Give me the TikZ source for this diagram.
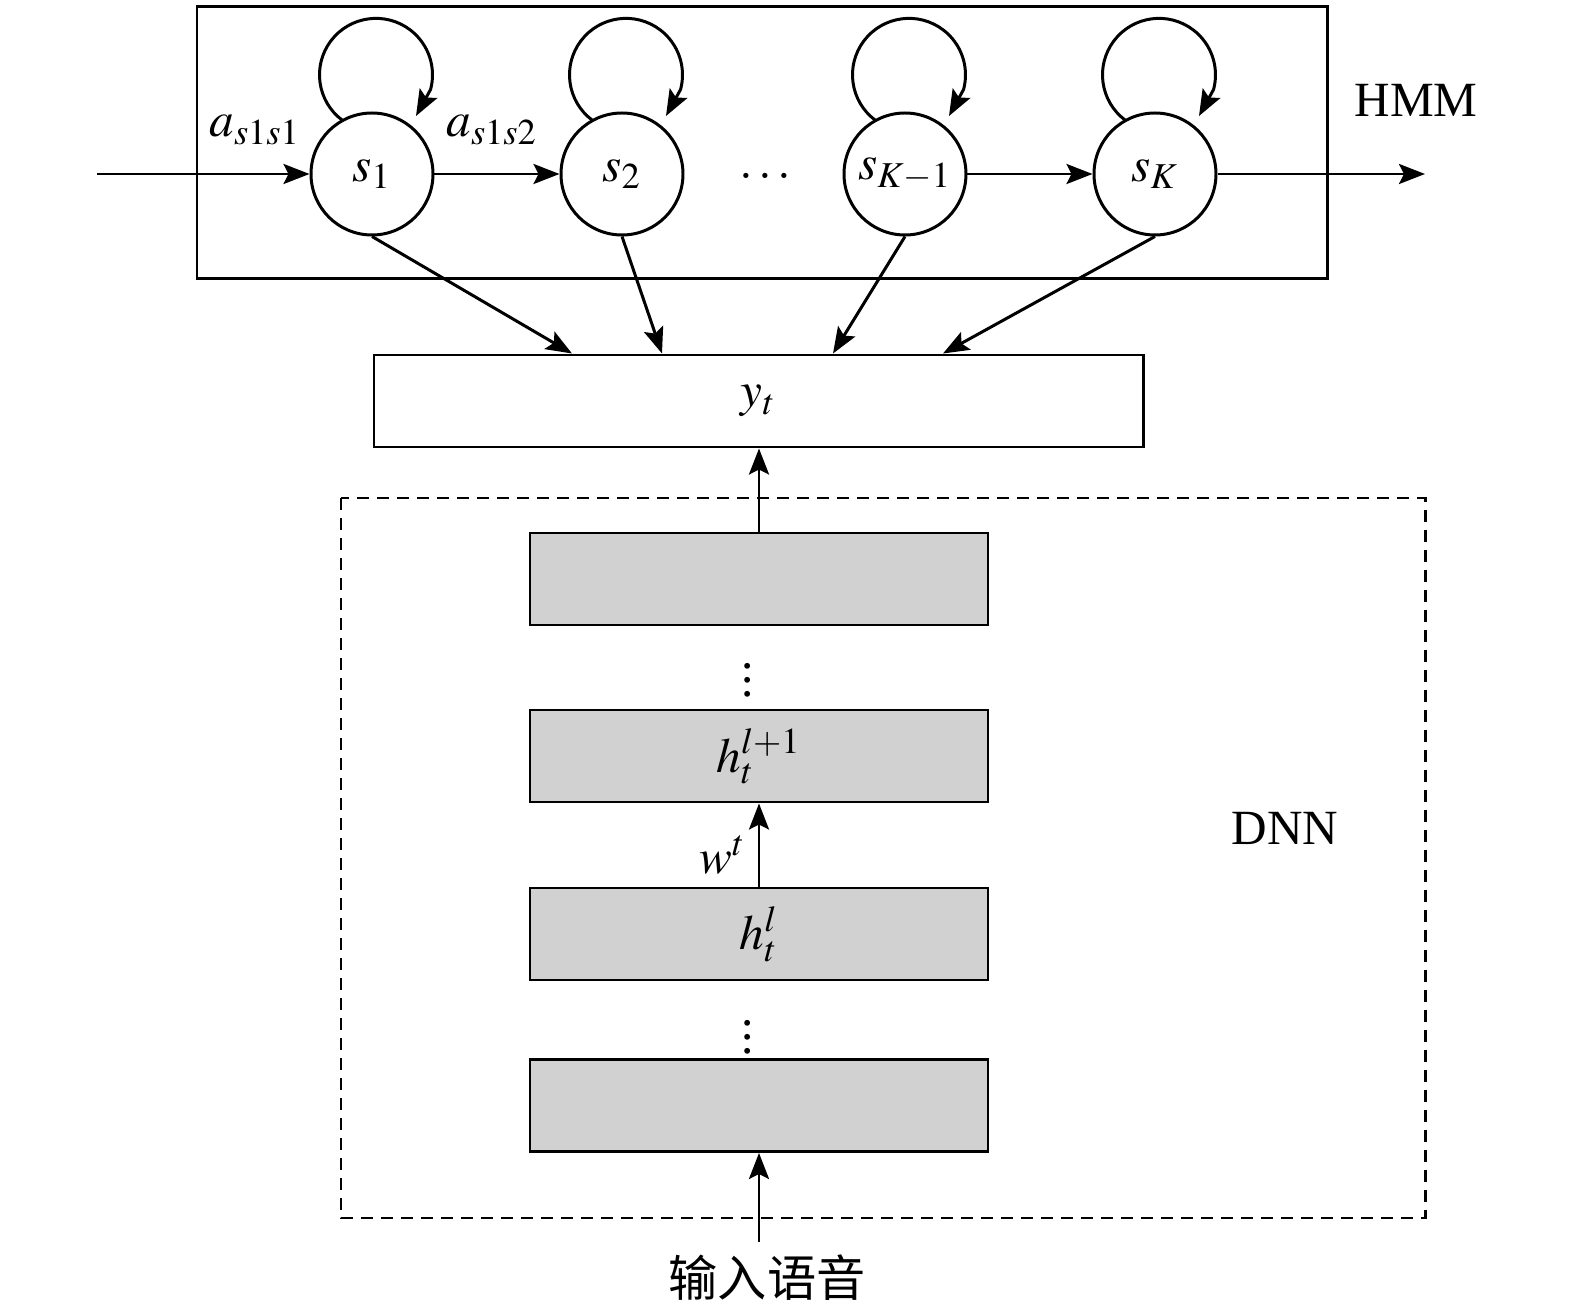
\documentclass[tikz,border=0pt]{standalone}
\usepackage{mathptmx}
\usepackage{fontspec}
\setmainfont{Liberation Serif}
\newfontfamily\cjk{Noto Sans CJK SC}
\usepackage{tikz}
\usetikzlibrary{arrows.meta}
\definecolor{layergray}{HTML}{D1D1D1}

\begin{document}
\begin{tikzpicture}[
    line width=0.85pt,
    every node/.style={font=\fontsize{14}{17}\selectfont},
    state/.style={draw, circle, minimum size=1.22cm, inner sep=0pt},
    layer/.style={draw, fill=layergray, minimum width=4.58cm, minimum height=0.92cm, inner sep=0pt},
    arr/.style={-{Stealth[length=2.6mm, width=2mm, inset=0.5mm]}}
]
  \useasboundingbox (0,0) rectangle (15.75,-13.14);

  % HMM-Kasten
  \draw (1.97,-0.07) rectangle (13.27,-2.79);
  \node (hmm) at (14.16,-1.00) {HMM};

  % Zustaende
  \node[state] (s1) at (3.72,-1.74) {$s_1$};
  \node[state] (s2) at (6.22,-1.74) {$s_2$};
  \node (dots) at (7.65,-1.76) {$\ldots$};
  \node[state] (sk1) at (9.05,-1.74) {$s_{K-1}$};
  \node[state] (sk) at (11.55,-1.74) {$s_K$};

  % Uebergaenge
  \coordinate (hin) at (0.97,-1.74);
  \coordinate (hout) at (14.25,-1.74);
  \draw[arr] (hin) -- (s1);
  \draw[arr] (s1) -- (s2);
  \draw[arr] (sk1) -- (sk);
  \draw[arr] (sk) -- (hout);
  \node (a11) at (2.55,-1.30) {$a_{s1s1}$};
  \node (a12) at (4.92,-1.30) {$a_{s1s2}$};

  % Schleifen
  \foreach \s in {s1,s2,sk1,sk}
    \draw[arr] ([shift={(-0.30,0.54)}]\s.center) arc[start angle=233, end angle=-15, radius=0.565]
      -- ([shift={(0.44,0.58)}]\s.center);

  % Ausgabe y_t
  \node[draw, minimum width=7.69cm, minimum height=0.92cm, inner sep=0pt] (yt) at (7.585,-4.01) {$y_t$};
  \draw[arr] (s1.south) -- ([xshift=-1.865cm]yt.north);
  \draw[arr] (s2.south) -- ([xshift=-0.965cm]yt.north);
  \draw[arr] (sk1.south) -- ([xshift=0.745cm]yt.north);
  \draw[arr] (sk.south) -- ([xshift=1.845cm]yt.north);

  % DNN
  \draw[dash pattern=on 1.2mm off 0.8mm] (3.41,-4.98) rectangle (14.25,-12.18);
  \node (dnn) at (12.85,-8.28) {DNN};
  \node[layer] (l4) at (7.59,-5.79) {};
  \node (v2) at (7.48,-6.70) {$\vdots$};
  \node[layer] (l3) at (7.59,-7.56) {$h_t^{l+1}$};
  \node[layer] (l2) at (7.59,-9.34) {$h_t^{l}$};
  \node (v1) at (7.48,-10.27) {$\vdots$};
  \node[layer] (l1) at (7.59,-11.055) {};

  \draw[arr] (l4.north) -- (l4.north |- yt.south);
  \draw[arr] (l2) -- (l3) node[midway, left, yshift=-1mm] (w) {$w^t$};

  % Eingabe
  \node[font=\cjk\fontsize{14}{17}\selectfont] (in) at (7.67,-12.78) {输入语音};
  \draw[arr] (in.north -| l1.south) -- (l1.south);

\end{tikzpicture}
\end{document}
